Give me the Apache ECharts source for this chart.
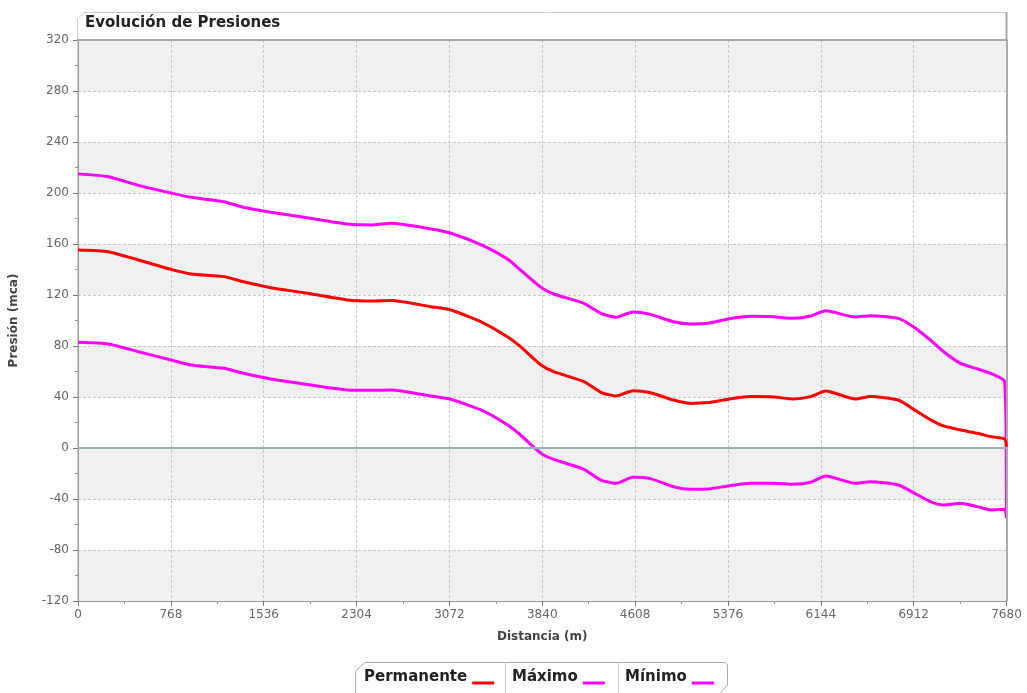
<!DOCTYPE html>
<html>
<head>
<meta charset="utf-8">
<title>Evolución de Presiones</title>
<script src="https://cdn.jsdelivr.net/npm/echarts@6/dist/echarts.min.js"></script>
<style>
  html, body { margin: 0; padding: 0; background: #ffffff; }
  #chart { width: 1027px; height: 693px; }
</style>
</head>
<body>
<div id="chart"></div>
<script>
// Distance along the pipe (m)
const distancias = [0, 250, 500, 770, 935, 1205, 1370, 1595, 1870, 2230, 2445, 2590, 2920, 3085,
  3355, 3555, 3660, 3830, 3935, 4185, 4325, 4450, 4590, 4735, 4925, 5070, 5210, 5375, 5565,
  5755, 5920, 6060, 6185, 6430, 6555, 6785, 6910, 7050, 7160, 7300, 7440, 7550, 7665, 7680];

// Steady-state pressure (mca)
const permanente = [155.3, 154, 147.5, 140.1, 136.5, 134.4, 130.4, 125.7, 121.8, 116.1, 115.3, 115.6, 110.8, 108.2,
  98, 87, 79.5, 65.1, 59.9, 52, 43.7, 40.8, 44.9, 43.4, 37.6, 35, 35.6, 38.2, 40.3,
  40, 38.4, 40.3, 44.7, 38.4, 40.3, 37.6, 30.5, 22.3, 17.3, 14.1, 11.5, 8.9, 7, 1];

// Maximum transient pressure envelope (mca)
const maximo = [215, 212.8, 206, 200, 196.6, 193.2, 188.8, 184.9, 181, 175.7, 175, 176.2, 171.8, 168.4,
  158.5, 148, 139.6, 126, 120.8, 113.5, 105.6, 102.5, 106.7, 104.8, 99, 97.3, 97.8, 101.2, 103.3,
  103, 101.7, 103.5, 107.7, 102.7, 103.8, 101.7, 95.1, 84.7, 75.5, 66.4, 62, 58.5, 52, -55];

// Minimum transient pressure envelope (mca)
const minimo = [82.9, 81.6, 75.5, 69, 65.1, 62.5, 58.6, 54.1, 50.2, 45.5, 45.2, 45.5, 40.8, 38.2,
  29, 18, 10.2, -4.2, -8.9, -16.7, -25.1, -27.7, -23, -24, -30.4, -32.4, -32.2, -29.8, -27.7,
  -27.7, -28.5, -26.9, -22, -27.7, -26.4, -29, -35, -42, -44.7, -43.4, -46, -48.6, -48, -55];

const nombresSeries = ['Permanente', 'Máximo', 'Mínimo'];
const coloresSeries = ['#ff0000', '#ff00ff', '#ff00ff'];

const ejeX = { min: 0, max: 7680, interval: 768 };
const ejeY = { min: -120, max: 320, interval: 40 };

const pares = vals => distancias.map((d, i) => [d, vals[i]]);

const chart = echarts.init(document.getElementById('chart'), null, { renderer: 'canvas' });

const tickFont = { color: '#666666', fontFamily: 'DejaVu Sans', fontSize: 12 };
const nameFont = { color: '#444444', fontFamily: 'DejaVu Sans', fontSize: 12, fontWeight: 'bold' };
const legendFont = { color: '#222222', fontFamily: 'DejaVu Sans', fontSize: 15, fontWeight: 'bold' };

// short line sample sitting low beside each legend label
const legendIcon = 'path://M0,0L0,0M0,11L22,11L22,14L0,14Z';

function legendAt(name, left) {
  return {
    data: [name], left: left, top: 670, orient: 'horizontal', align: 'right',
    icon: legendIcon, itemWidth: 22, itemHeight: 14, itemGap: 0, padding: 0,
    textStyle: Object.assign({ padding: [0, 0, 0, 0] }, legendFont),
    selectedMode: false
  };
}

const series = [permanente, maximo, minimo].map((vals, k) => ({
  name: nombresSeries[k],
  type: 'line',
  data: pares(vals),
  showSymbol: false,
  smooth: 0.2,
  lineStyle: { color: coloresSeries[k], width: 3 },
  itemStyle: { color: coloresSeries[k] },
  z: 5 - k,
  animation: false
}));

// zero reference line and right-hand plot border
series[0].markLine = {
  silent: true, symbol: 'none', label: { show: false }, animation: false,
  data: [
    { yAxis: 0, lineStyle: { color: '#98b2b2', width: 2, type: 'solid' } },
    { xAxis: 7680, lineStyle: { color: '#aaaaaa', width: 2, type: 'solid' } }
  ]
};

const plainNumber = v => String(v);

chart.setOption({
  animation: false,
  backgroundColor: '#ffffff',
  grid: {
    left: 77, right: 20.5, top: 40, bottom: 92,
    show: true, borderColor: '#aaaaaa', borderWidth: 1
  },
  xAxis: {
    type: 'value', min: ejeX.min, max: ejeX.max, interval: ejeX.interval,
    name: 'Distancia (m)', nameLocation: 'middle', nameGap: 30, nameTextStyle: nameFont,
    axisLine: { show: true, onZero: false, lineStyle: { color: '#999999', width: 1 } },
    axisTick: { show: true, length: 5, lineStyle: { color: '#777777' } },
    minorTick: { show: true, splitNumber: 2, length: 3, lineStyle: { color: '#999999' } },
    axisLabel: Object.assign({ margin: 8, formatter: plainNumber }, tickFont),
    splitLine: { show: true, lineStyle: { color: '#c8c8c8', type: [3, 2], width: 1 } }
  },
  yAxis: {
    type: 'value', min: ejeY.min, max: ejeY.max, interval: ejeY.interval,
    name: 'Presión (mca)', nameLocation: 'middle', nameGap: 58, nameTextStyle: nameFont,
    axisLine: { show: true, onZero: false, lineStyle: { color: '#999999', width: 1 } },
    axisTick: { show: true, length: 5, lineStyle: { color: '#777777' } },
    minorTick: { show: true, splitNumber: 2, length: 3, lineStyle: { color: '#999999' } },
    axisLabel: Object.assign({ margin: 9, formatter: plainNumber }, tickFont),
    splitLine: { show: true, lineStyle: { color: '#c8c8c8', type: [3, 2], width: 1 } },
    splitArea: { show: true, areaStyle: { color: ['#f0f0f0', '#ffffff'] } }
  },
  legend: [
    legendAt(nombresSeries[0], 364),
    legendAt(nombresSeries[1], 512),
    legendAt(nombresSeries[2], 625)
  ],
  graphic: [
    // title frame with clipped corner
    {
      type: 'polyline', silent: true, z: 10,
      shape: { points: [[77.5, 40], [77.5, 19], [84, 12.5], [1007, 12.5]] },
      style: { stroke: '#cccccc', lineWidth: 1, fill: null }
    },
    {
      type: 'line', silent: true, z: 10,
      shape: { x1: 1006.5, y1: 12, x2: 1006.5, y2: 40 },
      style: { stroke: '#aaaaaa', lineWidth: 2 }
    },
    {
      type: 'line', silent: true, z: 10,
      shape: { x1: 77, y1: 40, x2: 1007.5, y2: 40 },
      style: { stroke: '#aaaaaa', lineWidth: 2 }
    },
    {
      type: 'text', silent: true, z: 11, left: 85, top: 16,
      style: { text: 'Evolución de Presiones', fill: '#222222', font: 'bold 15px "DejaVu Sans"' }
    },
    // legend frame
    {
      type: 'polyline', silent: true, z: 10,
      shape: { points: [[355.5, 694], [355.5, 671], [365, 662.5], [725, 662.5], [727.5, 665], [727.5, 685], [719, 694]] },
      style: { stroke: '#aaaaaa', lineWidth: 1, fill: null }
    },
    {
      type: 'line', silent: true, z: 10,
      shape: { x1: 505.5, y1: 662.5, x2: 505.5, y2: 694 },
      style: { stroke: '#cccccc', lineWidth: 1 }
    },
    {
      type: 'line', silent: true, z: 10,
      shape: { x1: 618.5, y1: 662.5, x2: 618.5, y2: 694 },
      style: { stroke: '#cccccc', lineWidth: 1 }
    }
  ],
  series: series
});
</script>
</body>
</html>
